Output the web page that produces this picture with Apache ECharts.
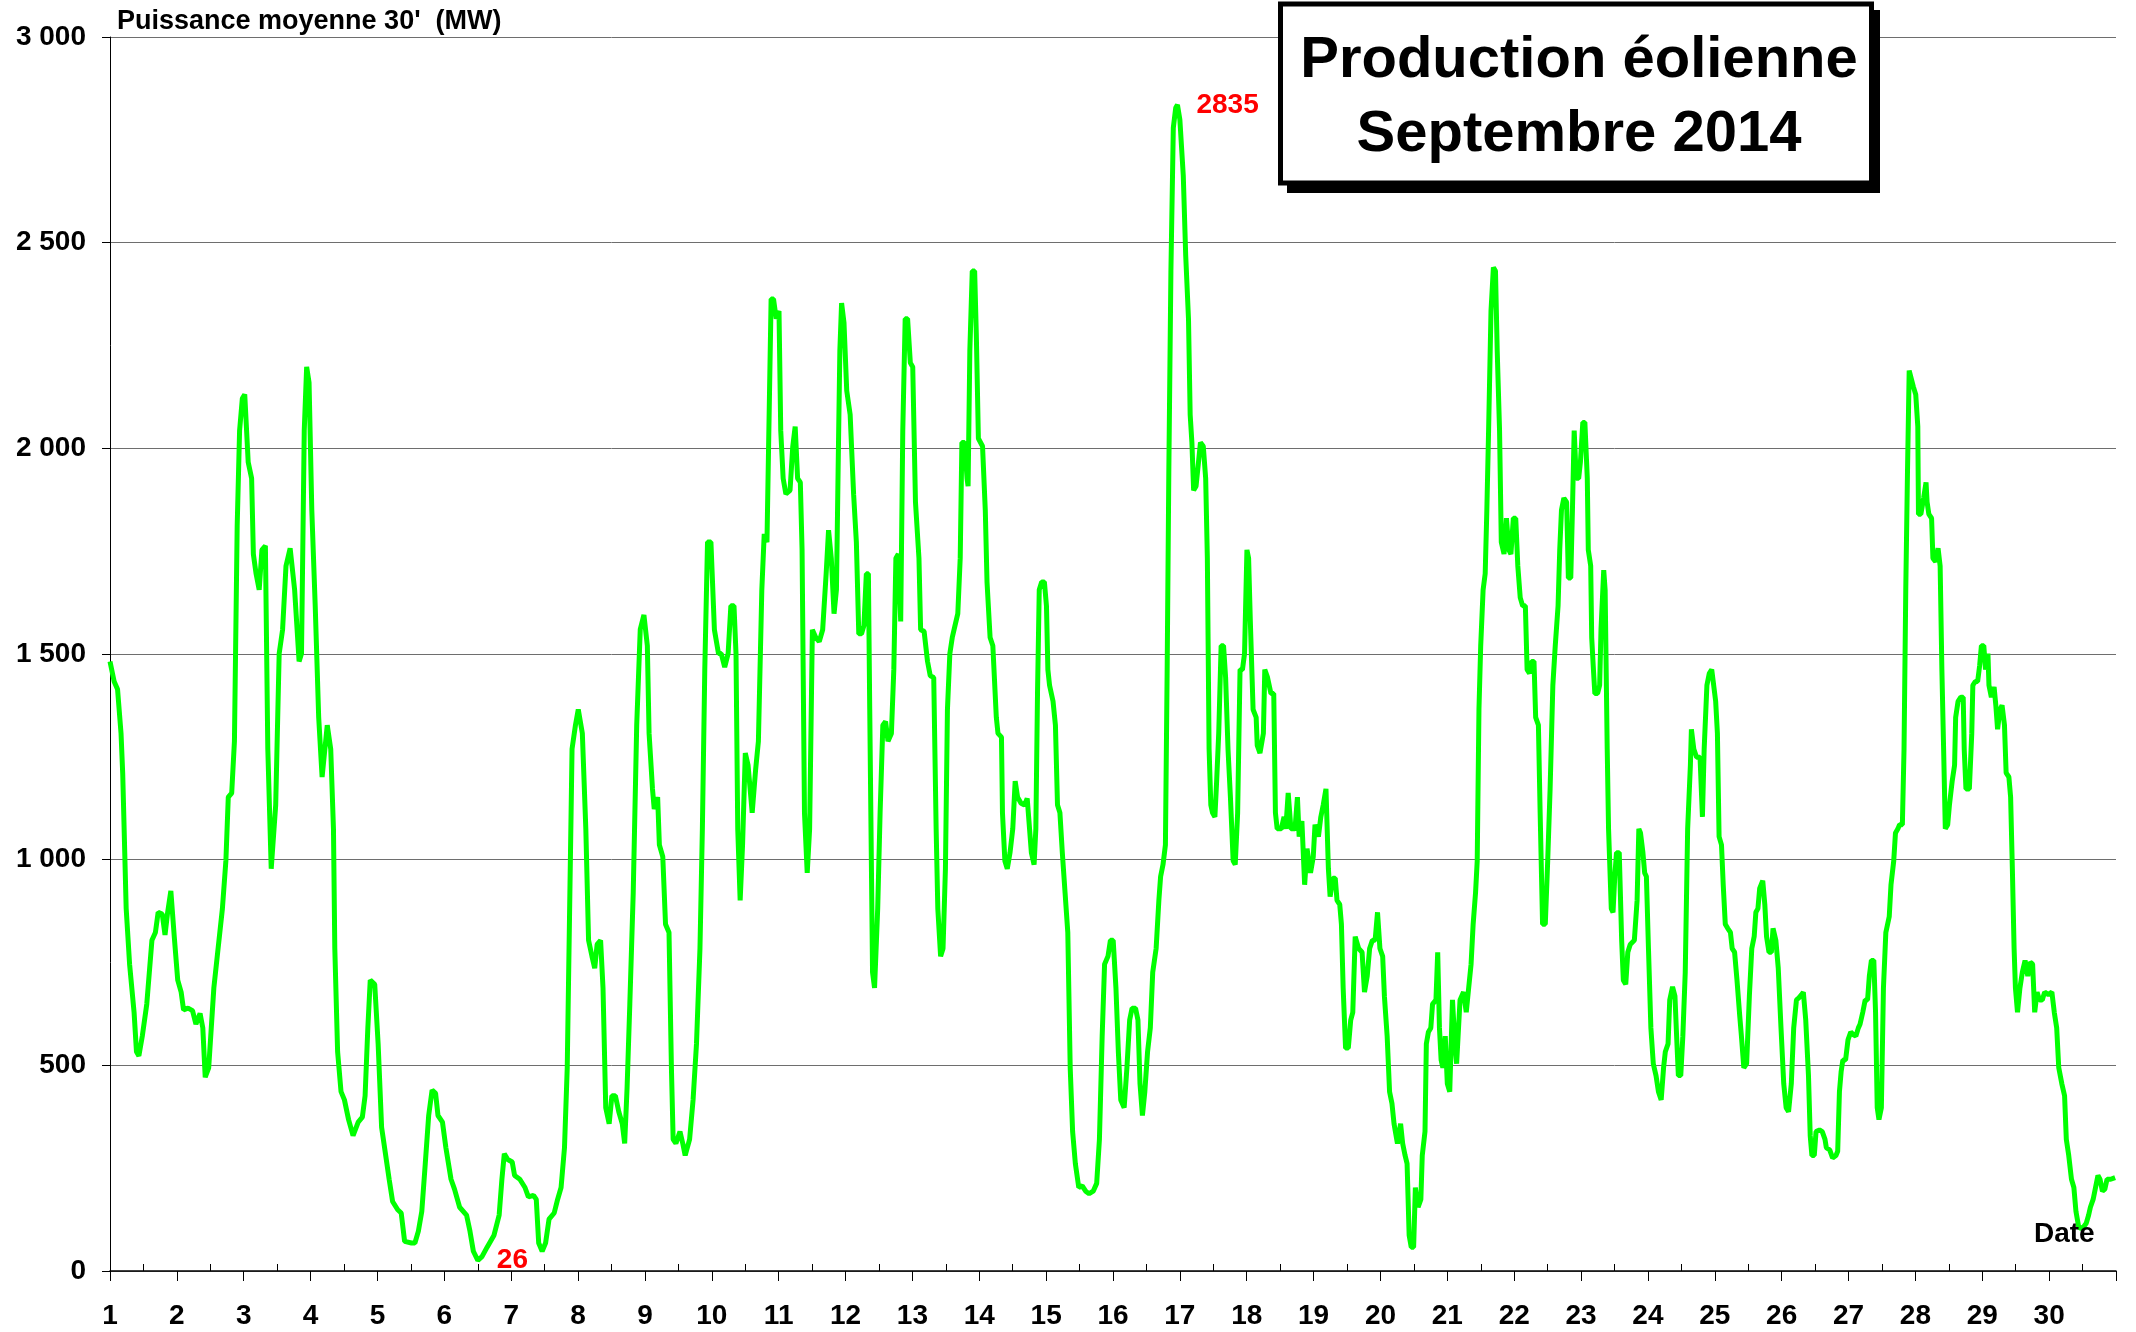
<!DOCTYPE html>
<html>
<head>
<meta charset="utf-8">
<title>Production éolienne Septembre 2014</title>
<script src="https://cdn.jsdelivr.net/npm/echarts@6/dist/echarts.min.js"></script>
<style>
    html, body { margin: 0; padding: 0; background: #fff; }
    #chart { width: 2136px; height: 1332px; }
</style>
</head>
<body>
<div id="chart"></div>
<script>
// Puissance moyenne 30' (MW), [jour, MW]
var mesures = [
    [1.00,1482],[1.062,1433],[1.113,1414],[1.165,1307],[1.19,1210],[1.242,881],[1.293,746],[1.36,629],[1.396,533],[1.432,523],
    [1.483,571],[1.55,649],[1.627,804],[1.679,823],[1.72,872],[1.781,868],[1.823,817],[1.859,868],[1.91,924],[1.961,813],
    [2.013,707],[2.064,678],[2.1,635],[2.167,639],[2.234,633],[2.285,600],[2.347,626],[2.388,591],[2.424,471],[2.476,494],
    [2.553,688],[2.604,765],[2.681,881],[2.733,997],[2.769,1152],[2.82,1162],[2.861,1288],[2.902,1811],[2.938,2043],[2.979,2121],
    [3.015,2131],[3.041,2131],[3.067,1966],[3.118,1927],[3.144,1743],[3.185,1695],[3.231,1656],[3.272,1753],[3.324,1763],[3.36,1269],
    [3.411,978],[3.478,1133],[3.53,1501],[3.581,1559],[3.632,1714],[3.694,1757],[3.761,1656],[3.828,1482],[3.864,1501],[3.905,2043],
    [3.941,2198],[3.977,2160],[4.018,1850],[4.069,1617],[4.121,1346],[4.172,1201],[4.249,1327],[4.301,1269],[4.342,1075],[4.362,784],
    [4.404,533],[4.455,436],[4.506,416],[4.568,368],[4.635,329],[4.712,362],[4.774,374],[4.815,426],[4.856,591],[4.892,707],
    [4.959,697],[5.01,552],[5.062,349],[5.123,281],[5.175,223],[5.226,169],[5.303,149],[5.355,141],[5.406,72],[5.509,68],
    [5.56,68],[5.612,97],[5.663,145],[5.715,261],[5.766,378],[5.817,440],[5.869,432],[5.905,378],[5.972,362],[6.023,300],
    [6.1,223],[6.152,199],[6.229,155],[6.332,136],[6.383,97],[6.434,48],[6.501,26],[6.563,35],[6.64,58],[6.743,87],
    [6.82,136],[6.861,223],[6.897,285],[6.949,271],[7.015,265],[7.051,232],[7.129,223],[7.206,203],[7.257,180],[7.334,184],
    [7.375,174],[7.411,68],[7.463,48],[7.514,68],[7.566,126],[7.643,141],[7.694,174],[7.746,203],[7.797,300],[7.838,494],
    [7.874,881],[7.91,1269],[7.961,1327],[8.003,1365],[8.064,1307],[8.116,1075],[8.157,804],[8.208,765],[8.249,736],[8.285,794],
    [8.337,804],[8.373,688],[8.414,397],[8.465,358],[8.506,426],[8.558,426],[8.609,387],[8.661,358],[8.697,310],[8.733,445],
    [8.774,649],[8.825,920],[8.877,1327],[8.93,1560],[8.985,1595],
    [9.036,1520],[9.062,1307],[9.113,1172],[9.139,1123],[9.19,1152],[9.216,1036],[9.267,1007],[9.308,843],[9.36,823],[9.396,494],
    [9.422,320],[9.463,310],[9.524,339],[9.566,310],[9.602,281],[9.668,320],[9.72,416],[9.771,552],[9.823,784],[9.859,1075],
    [9.895,1462],[9.936,1772],[9.987,1772],[10.039,1559],[10.1,1501],[10.141,1501],[10.193,1468],[10.244,1501],[10.285,1617],[10.332,1617],
    [10.362,1501],[10.388,1075],[10.424,901],[10.46,1036],[10.501,1259],[10.542,1230],[10.604,1114],[10.656,1220],[10.697,1288],[10.748,1656],
    [10.784,1792],[10.825,1772],[10.851,1772],[10.887,2363],[10.923,2363],[10.964,2315],[11.005,2334],[11.031,2043],[11.067,1927],[11.108,1889],
    [11.17,1898],[11.211,2005],[11.247,2053],[11.283,1927],[11.324,1917],[11.35,1753],[11.386,1114],[11.427,968],[11.463,1075],[11.504,1559],
    [11.555,1540],[11.607,1530],[11.658,1559],[11.71,1695],[11.746,1801],[11.787,1733],[11.828,1598],[11.864,1656],[11.889,1946],[11.915,2237],
    [11.941,2353],[11.977,2305],[12.018,2140],[12.069,2082],[12.121,1888],[12.162,1772],[12.198,1549],[12.239,1549],[12.275,1569],[12.311,1695],
    [12.342,1695],[12.362,1365],[12.404,726],[12.434,688],[12.481,881],[12.517,1114],[12.558,1327],[12.599,1336],[12.635,1288],[12.686,1307],
    [12.722,1462],[12.753,1733],[12.789,1743],[12.825,1579],[12.856,2043],[12.892,2315],[12.928,2315],[12.969,2208],[13.005,2198],[13.046,1869],
    [13.098,1733],[13.123,1559],[13.175,1555],[13.226,1482],[13.267,1447],[13.319,1443],[13.355,1075],[13.38,881],[13.422,765],[13.458,784],
    [13.494,978],[13.524,1365],[13.56,1501],[13.596,1540],[13.637,1569],[13.679,1598],[13.715,1733],[13.74,2014],[13.781,2014],[13.817,1927],
    [13.833,1908],[13.859,2237],[13.895,2431],[13.931,2431],[13.956,2276],[13.987,2024],[14.049,2005],[14.09,1850],[14.116,1675],[14.162,1540],
    [14.203,1520],[14.255,1346],[14.28,1307],[14.332,1298],[14.347,1114],[14.383,997],[14.419,978],[14.46,1017],[14.501,1075],[14.537,1191],
    [14.573,1152],[14.625,1137],[14.676,1133],[14.717,1149],[14.743,1094],[14.779,1017],[14.82,988],[14.846,1075],[14.871,1404],[14.897,1656],
    [14.933,1675],[14.974,1675],[15.005,1617],[15.026,1462],[15.051,1424],[15.103,1385],[15.139,1327],[15.17,1133],[15.206,1114],[15.242,1017],
    [15.283,920],[15.324,823],[15.36,494],[15.396,339],[15.437,261],[15.488,203],[15.54,207],[15.591,194],[15.643,188],[15.704,194],
    [15.756,213],[15.797,320],[15.838,571],[15.874,746],[15.925,765],[15.961,804],[16.003,804],[16.044,688],[16.08,533],[16.116,416],
    [16.167,397],[16.208,494],[16.249,610],[16.285,639],[16.337,639],[16.373,610],[16.404,455],[16.44,378],[16.476,436],[16.517,533],
    [16.558,591],[16.594,726],[16.645,784],[16.686,901],[16.712,959],[16.748,988],[16.784,1036],[16.81,1462],[16.835,1946],[16.866,2431],
    [16.902,2779],[16.938,2828],
    [16.964,2835],[17.0,2799],[17.051,2663],[17.087,2470],[17.129,2315],[17.154,2082],[17.18,2014],[17.206,1898],[17.242,1908],[17.272,1956],
    [17.308,2014],[17.35,2005],[17.386,1927],[17.411,1733],[17.437,1269],[17.463,1133],[17.488,1114],[17.524,1104],[17.55,1191],[17.581,1307],
    [17.617,1520],[17.653,1520],[17.684,1443],[17.72,1269],[17.756,1152],[17.797,997],[17.828,988],[17.864,1114],[17.9,1462],[17.936,1462],
    [17.967,1501],[18.003,1753],[18.028,1733],[18.054,1579],[18.095,1365],[18.141,1346],[18.157,1278],[18.198,1259],[18.249,1307],[18.27,1462],
    [18.311,1443],[18.362,1404],[18.404,1404],[18.429,1114],[18.455,1075],[18.517,1075],[18.558,1104],[18.584,1075],[18.62,1162],[18.661,1075],
    [18.722,1075],[18.758,1152],[18.784,1056],[18.825,1094],[18.866,939],[18.902,1027],[18.954,968],[18.995,1007],[19.021,1085],[19.072,1056],
    [19.108,1104],[19.144,1133],[19.185,1172],[19.221,978],[19.247,910],[19.288,955],[19.324,955],[19.35,901],[19.391,891],[19.416,843],
    [19.442,688],[19.478,542],[19.519,542],[19.555,610],[19.586,629],[19.622,813],[19.674,784],[19.725,775],[19.761,678],[19.802,717],
    [19.838,784],[19.879,804],[19.92,804],[19.956,872],[19.992,784],[20.033,765],[20.059,668],[20.1,571],[20.136,436],[20.172,407],
    [20.203,358],[20.254,310],[20.301,358],[20.332,310],[20.368,281],[20.398,261],[20.429,87],[20.46,58],[20.496,58],[20.522,203],
    [20.563,155],[20.604,174],[20.625,281],[20.666,339],[20.686,552],[20.717,581],[20.753,591],[20.779,649],[20.83,659],[20.856,775],
    [20.882,591],[20.907,513],[20.933,494],[20.969,571],[21.0,455],[21.036,436],[21.077,659],[21.113,552],[21.139,504],[21.19,659],
    [21.242,678],[21.283,629],[21.319,688],[21.355,746],[21.386,843],[21.422,920],[21.447,997],[21.473,1365],[21.499,1520],[21.535,1656],
    [21.566,1695],[21.591,1850],[21.617,2043],[21.653,2334],[21.689,2440],[21.72,2431],[21.746,2237],[21.781,2043],[21.807,1772],[21.848,1743],
    [21.884,1830],[21.92,1753],[21.951,1743],[21.987,1830],[22.023,1830],[22.054,1714],[22.09,1637],[22.126,1617],[22.167,1617],[22.193,1462],
    [22.229,1453],[22.26,1482],[22.296,1482],[22.321,1346],[22.362,1327],[22.388,1114],[22.424,843],[22.465,843],[22.501,997],[22.537,1172],
    [22.578,1424],[22.614,1520],[22.656,1617],[22.681,1753],[22.707,1850],[22.743,1879],[22.784,1869],[22.81,1685],[22.846,1685],[22.871,1850],
    [22.897,2043],[22.928,1927],[22.964,1927],[22.99,1966],[23.026,2063],[23.057,2063],[23.093,1927],[23.108,1753],[23.144,1714],[23.159,1540],
    [23.185,1462],[23.206,1404],[23.247,1404],[23.278,1424],[23.298,1559],[23.339,1704],[23.36,1656],[23.391,1269],[23.411,1075],[23.452,881],
    [23.478,872],[23.504,959],[23.53,1017],[23.571,1017],[23.607,804],[23.632,707],[23.668,697],[23.699,775],[23.735,794],[23.761,794],
    [23.797,804],[23.838,901],[23.864,1075],[23.889,1065],[23.925,1017],[23.951,968],[23.977,959],[24.008,784],[24.044,591],[24.08,504],
    [24.121,475],[24.157,436],[24.198,416],[24.234,494],[24.26,533],[24.301,552],[24.326,659],[24.368,691],[24.404,668],[24.429,571],
    [24.455,475],[24.491,475],[24.522,571],[24.558,726],[24.594,1075],[24.635,1230],[24.65,1317],[24.686,1269],[24.728,1249],[24.779,1249],
    [24.815,1104],[24.841,1269],[24.882,1424],[24.918,1453],[24.954,1462],
    [25.013,1385],[25.039,1307],[25.064,1056],[25.1,1036],[25.126,939],[25.157,843],[25.193,833],[25.234,823],[25.26,784],[25.296,775],
    [25.332,707],[25.373,620],[25.398,571],[25.434,494],[25.476,504],[25.517,668],[25.553,784],[25.589,813],[25.614,872],[25.645,881],
    [25.671,930],[25.717,949],[25.748,891],[25.774,813],[25.81,775],[25.846,775],[25.871,833],[25.913,804],[25.949,736],[25.99,591],
    [26.031,455],[26.067,397],[26.103,387],[26.144,455],[26.18,591],[26.221,659],[26.257,664],[26.298,672],[26.324,678],[26.36,610],
    [26.401,475],[26.427,329],[26.452,281],[26.488,281],[26.514,339],[26.566,343],[26.607,339],[26.648,320],[26.668,300],[26.72,294],
    [26.761,275],[26.812,281],[26.838,291],[26.864,436],[26.889,484],[26.915,513],[26.956,513],[26.992,562],[27.033,581],[27.069,575],
    [27.11,571],[27.147,591],[27.172,600],[27.213,629],[27.249,659],[27.285,659],[27.311,717],[27.342,755],[27.378,755],[27.404,629],
    [27.429,397],[27.455,368],[27.491,397],[27.522,688],[27.558,823],[27.609,862],[27.635,939],[27.676,997],[27.702,1065],[27.738,1075],
    [27.763,1085],[27.805,1085],[27.83,1269],[27.856,1656],[27.882,1946],[27.907,2189],[27.933,2189],[27.969,2150],[28.005,2131],[28.036,2053],
    [28.046,1840],[28.082,1840],[28.123,1879],[28.159,1917],[28.175,1869],[28.201,1840],[28.242,1830],[28.262,1733],[28.303,1724],[28.339,1757],
    [28.37,1714],[28.396,1462],[28.422,1269],[28.447,1075],[28.483,1085],[28.509,1133],[28.55,1191],[28.586,1230],[28.602,1346],[28.638,1385],
    [28.679,1395],[28.715,1395],[28.73,1269],[28.756,1172],[28.807,1172],[28.843,1307],[28.859,1424],[28.895,1433],[28.931,1433],[28.961,1472],
    [28.987,1520],[29.023,1520],[29.049,1462],[29.085,1501],[29.1,1424],[29.136,1395],[29.177,1420],[29.203,1375],[29.229,1317],[29.265,1365],
    [29.296,1375],[29.332,1327],[29.357,1211],[29.398,1201],[29.424,1152],[29.45,978],[29.476,784],[29.496,688],[29.527,629],[29.563,688],
    [29.599,726],[29.64,755],[29.681,717],[29.717,751],[29.753,746],[29.784,629],[29.82,678],[29.856,659],[29.897,659],[29.933,678],
    [29.99,672],[30.041,678],[30.077,629],[30.113,591],[30.144,494],[30.19,455],[30.231,426],[30.257,320],[30.293,281],[30.334,223],
    [30.37,203],[30.401,145],[30.442,107],[30.483,103],[30.514,107],[30.555,116],[30.591,136],[30.617,155],[30.658,174],[30.694,203],
    [30.73,232],[30.761,223],[30.797,194],[30.833,199],[30.866,223],[30.92,223],[30.987,227]
];

var titre = ['Production éolienne', 'Septembre 2014'];
var nomAxeY = "Puissance moyenne 30'  (MW)";
var nomAxeX = 'Date';

// petites graduations au milieu de chaque jour
var demiJours = [];
for (var d = 1; d < 31; d++) {
    demiJours.push(d + 0.5);
}

var police = "'Liberation Sans', Arial, sans-serif";

var chart = echarts.init(document.getElementById('chart'));

var option = {
    backgroundColor: '#ffffff',
    animation: false,
    grid: {
        left: 110,
        right: 20,
        top: 37,
        bottom: 61
    },
    xAxis: [
        {
            type: 'value',
            min: 1,
            max: 31,
            interval: 1,
            axisLine: {show: true, lineStyle: {color: '#000', width: 1.5}},
            axisTick: {show: true, length: 10, lineStyle: {color: '#000', width: 1}},
            axisLabel: {
                margin: 31,
                color: '#000',
                fontFamily: police,
                fontWeight: 'bold',
                fontSize: 28,
                formatter: function (v) {
                    return v >= 31 ? '' : String(v);
                }
            },
            splitLine: {show: false}
        },
        {
            type: 'value',
            min: 1,
            max: 31,
            position: 'bottom',
            axisLine: {show: false},
            axisTick: {show: true, inside: true, length: 7, customValues: demiJours, lineStyle: {color: '#000', width: 1}},
            axisLabel: {show: false},
            splitLine: {show: false}
        }
    ],
    yAxis: {
        type: 'value',
        min: 0,
        max: 3000,
        interval: 500,
        axisLine: {show: true, lineStyle: {color: '#000', width: 1}},
        axisTick: {show: true, length: 8, lineStyle: {color: '#000', width: 1}},
        axisLabel: {
            margin: 24,
            color: '#000',
            fontFamily: police,
            fontWeight: 'bold',
            fontSize: 28,
            formatter: function (v) {
                return String(v).replace(/\B(?=(\d{3})+(?!\d))/g, ' ');
            }
        },
        splitLine: {show: true, lineStyle: {color: '#6e6e6e', width: 1}}
    },
    series: [
        {
            name: 'Production éolienne',
            type: 'line',
            data: mesures,
            showSymbol: false,
            symbol: 'none',
            lineStyle: {color: '#00ff00', width: 5},
            itemStyle: {color: '#00ff00'},
            markPoint: {
                symbol: 'circle',
                symbolSize: 2,
                itemStyle: {color: 'rgba(0,0,0,0)'},
                label: {
                    show: true,
                    position: 'right',
                    distance: 18,
                    color: '#ff0000',
                    fontFamily: police,
                    fontWeight: 'bold',
                    fontSize: 28,
                    formatter: '{c}'
                },
                data: [
                    {type: 'max', name: 'max'},
                    {type: 'min', name: 'min'}
                ]
            }
        }
    ],
    graphic: [
        {
            type: 'text',
            z: 100,
            left: 112,
            top: 6,
            style: {
                text: nomAxeY,
                fill: '#000',
                font: 'bold 27px ' + police,
                backgroundColor: '#fff',
                padding: [2, 4, 2, 5]
            }
        },
        {
            type: 'rect',
            z: 100,
            shape: {x: 1287, y: 10, width: 593, height: 183},
            style: {fill: '#000'}
        },
        {
            type: 'rect',
            z: 101,
            shape: {x: 1280.5, y: 4, width: 591, height: 179},
            style: {fill: '#fff', stroke: '#000', lineWidth: 5}
        },
        {
            type: 'text',
            z: 102,
            x: 1579,
            y: 98,
            style: {
                text: titre.join('\n'),
                fill: '#000',
                font: 'bold 58px ' + police,
                align: 'center',
                verticalAlign: 'middle',
                lineHeight: 74
            }
        },
        {
            type: 'text',
            z: 100,
            x: 2034,
            y: 1234,
            style: {
                text: nomAxeX,
                fill: '#000',
                font: 'bold 28px ' + police,
                verticalAlign: 'middle'
            }
        }
    ]
};

chart.setOption(option);
</script>
</body>
</html>
